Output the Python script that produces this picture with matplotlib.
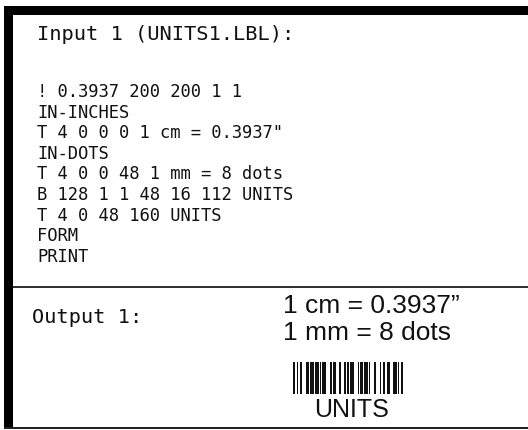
import matplotlib
matplotlib.use("Agg")
import matplotlib.pyplot as plt
from matplotlib.patches import Rectangle

# ---------------------------------------------
# Label example: input program and printed output
# ---------------------------------------------

title_text = "Input 1 (UNITS1.LBL):"
code_lines = [
    "! 0.3937 200 200 1 1",
    "IN-INCHES",
    'T 4 0 0 0 1 cm = 0.3937"',
    "IN-DOTS",
    "T 4 0 0 48 1 mm = 8 dots",
    "B 128 1 1 48 16 112 UNITS",
    "T 4 0 48 160 UNITS",
    "FORM",
    "PRINT",
]
output_label = "Output 1:"
output_lines = ["1 cm = 0.3937\u201d", "1 mm = 8 dots"]
barcode_text = "UNITS"

# Code 128 (set B) module patterns: start B, U, N, I, T, S, checksum 11, stop
code128_patterns = ["211214", "213131", "113321", "231311", "213311",
                    "213113", "231212", "2331112"]

W, H = 528, 431
fig = plt.figure(figsize=(W / 100, H / 100), dpi=100)
ax = fig.add_axes([0, 0, 1, 1])
ax.set_xlim(0, W)
ax.set_ylim(H, 0)
ax.axis("off")

ink = "#111111"

# frame
ax.add_patch(Rectangle((4, 7), W - 4, 8.5, color="black", lw=0))
ax.add_patch(Rectangle((4, 7), 9, 423, color="black", lw=0))
ax.add_patch(Rectangle((4, 427.8), W - 4, 2.4, color="#222222", lw=0))
ax.add_patch(Rectangle((13, 286.8), W - 13, 2.2, color="#333333", lw=0))

# input listing
mono = "DejaVu Sans Mono"
ax.text(37, 40, title_text, family=mono, fontsize=14.7, color=ink, va="baseline")
for i, line in enumerate(code_lines):
    ax.text(37, 97 + 20.6 * i, line, family=mono, fontsize=12.3, color=ink,
            va="baseline")

# output section
ax.text(32, 323, output_label, family=mono, fontsize=14.6, color=ink, va="baseline")
sans = "Liberation Sans"
ax.text(283, 313, output_lines[0], family=sans, fontsize=19, color=ink, va="baseline")
ax.text(283, 340, output_lines[1], family=sans, fontsize=19, color=ink, va="baseline")

# barcode
modules = [int(c) for p in code128_patterns for c in p]
x0, x1, y0, y1 = 293, 403, 363, 395
unit = (x1 - x0) / sum(modules)
lefts, widths = [], []
pos = x0
for k, m in enumerate(modules):
    if k % 2 == 0:
        lefts.append(pos)
        widths.append(m * unit)
    pos += m * unit
ax.bar(lefts, y1 - y0, width=widths, bottom=y0, align="edge", color="#111111", lw=0)
ax.text(352, 417, barcode_text, family=sans, fontsize=18, color=ink,
        ha="center", va="baseline")

fig.savefig("out.png", dpi=100)
